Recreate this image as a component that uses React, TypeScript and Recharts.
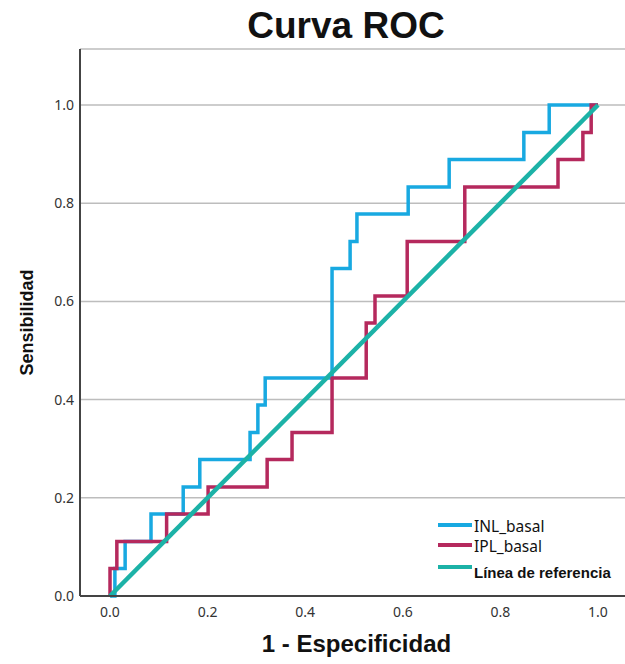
import { CartesianGrid, Line, LineChart, XAxis, YAxis } from "recharts";

// ROC steps: fpr = 1 - especificidad where the curve rises, tpr = sensibilidad after the rise
const inlFpr = [0, 0.01, 0.031, 0.084, 0.15, 0.184, 0.287, 0.303, 0.318, 0.455, 0.492, 0.506, 0.611, 0.695, 0.848, 0.9, 1.0];
const inlTpr = [0, 0.056, 0.111, 0.167, 0.222, 0.278, 0.333, 0.389, 0.444, 0.667, 0.722, 0.778, 0.833, 0.889, 0.944, 1.0, 1.0];
const iplFpr = [0, 0, 0.014, 0.116, 0.201, 0.322, 0.373, 0.455, 0.525, 0.543, 0.609, 0.727, 0.918, 0.969, 0.986, 1.0];
const iplTpr = [0, 0.056, 0.111, 0.167, 0.222, 0.278, 0.333, 0.444, 0.556, 0.611, 0.722, 0.833, 0.889, 0.944, 1.0, 1.0];
const refFpr = [0, 1];
const refTpr = [0, 1];

const axisTicks = [0, 0.2, 0.4, 0.6, 0.8, 1.0];

const seriesNames = ["INL_basal", "IPL_basal", "Línea de referencia"];
const seriesColors = ["#18a9e1", "#b5295d", "#1cb2a7"];

const toPoints = (xs: number[], ys: number[]) => xs.map((x, i) => ({ x, y: ys[i] }));

const inlData = toPoints(inlFpr, inlTpr);
const iplData = toPoints(iplFpr, iplTpr);
const refData = toPoints(refFpr, refTpr);

const tickStyle = { fontSize: 14, fill: "#333", fontFamily: "Noto Sans" };

function RocLegend() {
  const rows = [525, 545, 567];
  return (
    <g>
      {seriesNames.map((name, i) => (
        <g key={name}>
          <line x1={438} x2={472} y1={rows[i]} y2={rows[i]} stroke={seriesColors[i]} strokeWidth={4} />
          <text
            x={474}
            y={rows[i] + (i === 2 ? 11 : 7)}
            fontFamily={i === 2 ? "Liberation Sans" : "Noto Sans"}
            fontWeight={i === 2 ? "bold" : "normal"}
            fontSize={i === 2 ? 15 : 15.5}
            fill="#111"
          >
            {name}
          </text>
        </g>
      ))}
    </g>
  );
}

export default function App() {
  return (
    <div style={{ position: "absolute", left: 0, top: 0, background: "#fff" }}>
      <LineChart width={625} height={664} margin={{ top: 49, right: 0, bottom: 0, left: 0 }}>
        <text
          x={346}
          y={38}
          textAnchor="middle"
          fontFamily="Liberation Sans"
          fontWeight="bold"
          fontSize={37}
          fill="#111"
        >
          Curva ROC
        </text>
        <CartesianGrid vertical={false} stroke="#bdbdbd" strokeWidth={1.5} />
        <XAxis
          dataKey="x"
          type="number"
          domain={[-0.0615, 1.0553]}
          ticks={axisTicks}
          tickFormatter={(v) => v.toFixed(1)}
          height={68}
          tickSize={0}
          tickMargin={11}
          tick={tickStyle}
          axisLine={{ stroke: "#444", strokeWidth: 2 }}
          label={{
            value: "1 - Especificidad",
            position: "insideBottom",
            offset: 12,
            dx: 4,
            style: { fontSize: 24, fontWeight: "bold", fill: "#111", fontFamily: "Liberation Sans" },
          }}
        />
        <YAxis
          dataKey="y"
          type="number"
          domain={[0, 1.114]}
          ticks={axisTicks}
          tickFormatter={(v) => v.toFixed(1)}
          width={80}
          tickSize={0}
          tickMargin={6}
          tick={tickStyle}
          axisLine={{ stroke: "#444", strokeWidth: 2 }}
          label={{
            value: "Sensibilidad",
            angle: -90,
            position: "insideLeft",
            offset: 27,
            style: { fontSize: 18, fontWeight: "bold", fill: "#111", fontFamily: "Liberation Sans", textAnchor: "middle" },
          }}
        />
        <Line
          data={inlData}
          dataKey="y"
          type="stepAfter"
          stroke={seriesColors[0]}
          strokeWidth={3.5}
          dot={false}
          isAnimationActive={false}
        />
        <Line
          data={iplData}
          dataKey="y"
          type="stepAfter"
          stroke={seriesColors[1]}
          strokeWidth={3.5}
          dot={false}
          isAnimationActive={false}
        />
        <Line
          data={refData}
          dataKey="y"
          type="linear"
          stroke={seriesColors[2]}
          strokeWidth={4.5}
          dot={false}
          isAnimationActive={false}
        />
        <RocLegend />
      </LineChart>
    </div>
  );
}
